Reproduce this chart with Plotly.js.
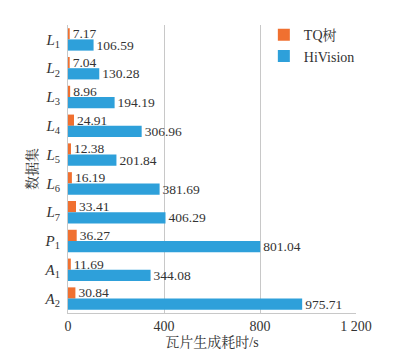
<!DOCTYPE html>
<html>
<head>
<meta charset="utf-8">
<script src="https://cdn.plot.ly/plotly-3.0.1.min.js"></script>
<style>html,body{margin:0;padding:0;background:#fff;}#chart{width:405px;height:355px;}</style>
</head>
<body>
<div id="chart"></div>
<script>
const categories = ["L1","L2","L3","L4","L5","L6","L7","P1","A1","A2"];
const tickLabels = ["<i>L</i><sub>1</sub>","<i>L</i><sub>2</sub>","<i>L</i><sub>3</sub>","<i>L</i><sub>4</sub>","<i>L</i><sub>5</sub>","<i>L</i><sub>6</sub>","<i>L</i><sub>7</sub>","<i>P</i><sub>1</sub>","<i>A</i><sub>1</sub>","<i>A</i><sub>2</sub>"];
const tqValues = [7.17, 7.04, 8.96, 24.91, 12.38, 16.19, 33.41, 36.27, 11.69, 30.84];
const hiValues = [106.59, 130.28, 194.19, 306.96, 201.84, 381.69, 406.29, 801.04, 344.08, 975.71];
const seriesNames = ["TQ树", "HiVision"];

const font = "'Liberation Serif', 'Times New Roman', Times, 'Noto Serif CJK SC', serif";
const fmt = v => v.toFixed(2);

const traces = [
  {type:"bar", orientation:"h", name:seriesNames[0], y:categories, x:tqValues,
   marker:{color:"#F07030"}, text:tqValues.map(fmt), textposition:"outside", constraintext:"none",
   textfont:{family:font, size:13.5, color:"#333"}, cliponaxis:false},
  {type:"bar", orientation:"h", name:seriesNames[1], y:categories, x:hiValues,
   marker:{color:"#2EA0DA"}, text:hiValues.map(fmt), textposition:"outside", constraintext:"none",
   textfont:{family:font, size:13.5, color:"#333"}, cliponaxis:false}
];

const layout = {
  width:405, height:355,
  margin:{l:68, r:49, t:25, b:42},
  paper_bgcolor:"#fff", plot_bgcolor:"#fff",
  font:{family:font, size:14, color:"#333"},
  barmode:"group", bargap:0.22, bargroupgap:0,
  showlegend:true,
  legend:{x:0.68, y:1.02, xanchor:"left", yanchor:"top", bgcolor:"rgba(0,0,0,0)",
          font:{family:font, size:14, color:"#333"}, itemwidth:30, tracegroupgap:2},
  xaxis:{range:[0,1200], tickvals:[0,400,800,1200], ticktext:["0","400","800","1 200"],
         showgrid:true, gridcolor:"#C8C8C8", gridwidth:1, zeroline:false,
         showline:true, linecolor:"#C8C8C8", mirror:false, ticks:"",
         tickfont:{family:font, size:14, color:"#333"},
         title:{text:"瓦片生成耗时/s", font:{family:font, size:14, color:"#333"}, standoff:4}},
  yaxis:{autorange:"reversed", tickvals:categories, ticktext:tickLabels,
         showline:true, linecolor:"#C8C8C8", ticks:"", showgrid:false, zeroline:false,
         tickfont:{family:font, size:15, color:"#333"}, ticklabelstandoff:4,
         title:{text:"数据集", font:{family:font, size:14, color:"#333"}, standoff:3}}
};

Plotly.newPlot("chart", traces, layout, {staticPlot:true, displayModeBar:false});
</script>
</body>
</html>
